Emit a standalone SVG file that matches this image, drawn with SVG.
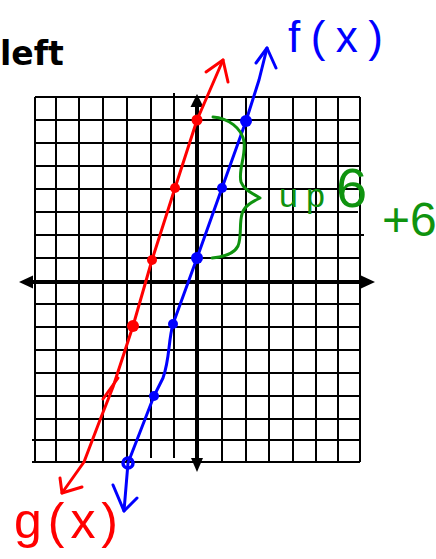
<svg xmlns="http://www.w3.org/2000/svg" width="436" height="559" viewBox="0 0 436 559">
<style>
.grid line{stroke:#000;stroke-width:2}
.axis{stroke:#000;stroke-width:4;fill:none}
.red{stroke:#ff0000;stroke-width:3;fill:none;stroke-linecap:round;stroke-linejoin:round}
.blue{stroke:#0000ff;stroke-width:3;fill:none;stroke-linecap:round;stroke-linejoin:round}
.green{stroke:#0f930f;stroke-width:3;fill:none;stroke-linecap:round;stroke-linejoin:round}
.hand{font-family:"Liberation Sans","DejaVu Sans",sans-serif}
</style>
<rect width="436" height="559" fill="#fff"/>
<text x="0" y="65" font-family="DejaVu Sans, sans-serif" font-weight="bold" font-size="33" fill="#000">left</text>
<g id="grid" class="grid">
<line x1="35" y1="97" x2="35" y2="462"/>
<line x1="56" y1="97" x2="56" y2="462"/>
<line x1="79" y1="97" x2="79" y2="462"/>
<line x1="103" y1="97" x2="103" y2="462"/>
<line x1="127" y1="97" x2="127" y2="462"/>
<line x1="151" y1="97" x2="151" y2="458"/>
<line x1="174" y1="93" x2="174" y2="458"/>
<line x1="222" y1="97" x2="222" y2="462"/>
<line x1="246" y1="97" x2="246" y2="462"/>
<line x1="269" y1="97" x2="269" y2="462"/>
<line x1="293" y1="97" x2="293" y2="462"/>
<line x1="316" y1="97" x2="316" y2="462"/>
<line x1="338" y1="97" x2="338" y2="462"/>
<line x1="360" y1="97" x2="360" y2="462"/>
<line x1="35" y1="97" x2="360" y2="97"/>
<line x1="35" y1="120" x2="360" y2="120"/>
<line x1="35" y1="143" x2="360" y2="143"/>
<line x1="35" y1="166" x2="360" y2="166"/>
<line x1="35" y1="189" x2="362" y2="189"/>
<line x1="35" y1="212" x2="358" y2="212"/>
<line x1="35" y1="235" x2="364" y2="235"/>
<line x1="35" y1="258" x2="360" y2="258"/>
<line x1="35" y1="304" x2="360" y2="304"/>
<line x1="35" y1="327" x2="360" y2="327"/>
<line x1="35" y1="350" x2="360" y2="350"/>
<line x1="35" y1="373" x2="360" y2="373"/>
<line x1="35" y1="396" x2="360" y2="396"/>
<line x1="35" y1="419" x2="360" y2="419"/>
<line x1="32" y1="440" x2="360" y2="440"/>
<line x1="32" y1="462" x2="360" y2="462"/>
</g>
<g id="axes">
<line class="axis" x1="30" y1="282" x2="364" y2="282"/>
<line class="axis" x1="197" y1="104" x2="197" y2="460"/>
<polygon points="19,282 33,275.5 33,288.5" fill="#000"/>
<polygon points="375,282 361,275.5 361,288.5" fill="#000"/>
<polygon points="197,94 190.5,107 203.5,107" fill="#000"/>
<polygon points="197,472 191,458 203,458" fill="#000"/>
</g>
<g id="connectors">
<g id="g-line">
<path class="red" d="M223,60 L210,90 L197,120 L175,188 L152,260 L133,326 L113,387 L100,420 L84,462 L62,493"/>
<path class="red" d="M206,72 L223,60 L228,82"/>
<path class="red" d="M60,478 L62,493 L82,487"/>
<path class="red" d="M103,399 L118,378"/>
<g fill="#ff0000">
<circle cx="197" cy="120" r="5.5"/>
<circle cx="175" cy="188" r="5"/>
<circle cx="152" cy="260" r="5"/>
<circle cx="133" cy="326" r="6"/>
</g>
</g>
<g id="f-line">
<path class="blue" d="M267,48 L259,80 L246,121 L222,188 L197,258 L173,324 C168,342 170,358 163,378 L154,396 L128,463 L124,511"/>
<path class="blue" d="M256,63 L267,48 L276,68"/>
<path class="blue" d="M113,485 L124,511 L137,498"/>
<g fill="#0000ff">
<circle cx="246" cy="121" r="6"/>
<circle cx="222" cy="188" r="5"/>
<circle cx="197" cy="258" r="6"/>
<circle cx="173" cy="324" r="5"/>
<circle cx="154" cy="396" r="5"/>
</g>
<circle cx="128" cy="463" r="5" fill="none" stroke="#0000ff" stroke-width="3.5"/>
</g>
<g id="brace">
<path class="green" d="M213,117 C228,118 242,128 244,142 C246,156 238,170 241,182 C244,190 252,193 260,198 C252,202 244,206 242,214 C239,224 242,236 238,246 C234,254 224,257 212,258"/>
</g>
</g>
<g id="labels" class="hand">
<text x="288" y="52" font-size="44" fill="#0000ff" textLength="95" lengthAdjust="spacing">f(x)</text>
<text x="14" y="538" font-size="50" fill="#ff0000" textLength="104" lengthAdjust="spacing">g(x)</text>
<text y="207" fill="#0f930f"><tspan x="279" font-size="34">u</tspan><tspan x="306" font-size="34">p</tspan><tspan x="336" font-size="56">6</tspan></text>
<text x="382" y="236" font-size="48" fill="#0f930f">+6</text>
</g>
</svg>
